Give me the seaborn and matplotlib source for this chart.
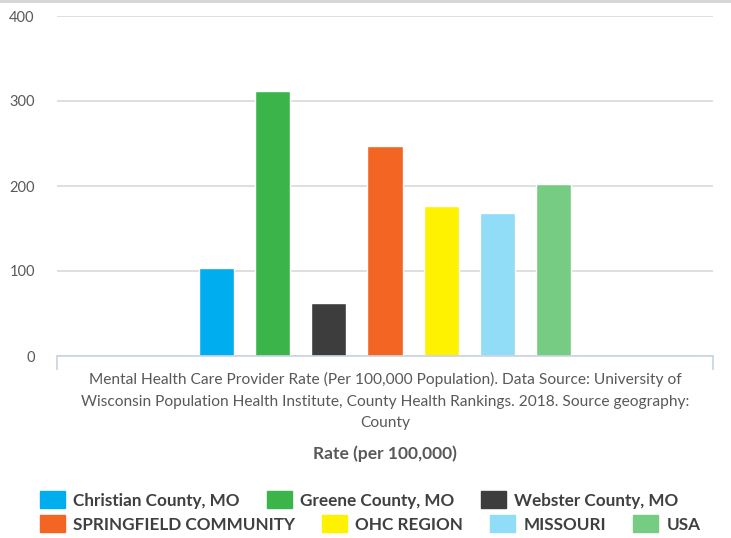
import pandas as pd
import seaborn as sns
import matplotlib.pyplot as plt
from matplotlib.lines import Line2D

# Chart data
areas = ["Christian County, MO", "Greene County, MO", "Webster County, MO",
         "SPRINGFIELD COMMUNITY", "OHC REGION", "MISSOURI", "USA"]
rates = [103, 312, 62, 247, 177, 168, 202]
bar_colors = ["#00aeef", "#3bb54a", "#3d3d3d", "#f26522", "#fff200", "#91dcf6", "#77cc83"]
category = ("Mental Health Care Provider Rate (Per 100,000 Population). Data Source: University of\n"
            "Wisconsin Population Health Institute, County Health Rankings. 2018. Source geography:\n"
            "County")
y_ticks = [0, 100, 200, 300, 400]
x_title = "Rate (per 100,000)"

sns.set_theme(style="white")
plt.rcParams["font.family"] = ["Lato", "DejaVu Sans"]

df = pd.DataFrame({"category": [category] * len(areas), "area": areas, "rate": rates})

fig = plt.figure(figsize=(7.31, 5.38), dpi=100)
ax = fig.add_axes([57 / 731, 1 - 356 / 538, 656 / 731, 340 / 538])

sns.barplot(data=df, x="category", y="rate", hue="area", hue_order=areas,
            palette=bar_colors, width=0.6, gap=0.375, saturation=1,
            legend=False, ax=ax, errorbar=None)

ax.set_xlim(-0.5, 0.5)
ax.set_ylim(0, 400)
ax.set_yticks(y_ticks)
ax.yaxis.grid(True, color="#d9d9d9", linewidth=1.2)
ax.set_axisbelow(True)
ax.set_ylabel("")

for s in ["left", "right", "top"]:
    ax.spines[s].set_visible(False)
ax.spines["bottom"].set_color("#c9d3e3")
ax.spines["bottom"].set_linewidth(1.2)

ax.tick_params(axis="y", length=0, pad=16, labelsize=10.5, labelcolor="#595959")
ax.set_xticks([0])
ax.set_xticklabels([category], fontsize=11.2, color="#595959", linespacing=1.68)
ax.tick_params(axis="x", which="major", length=0, pad=11.5)
ax.set_xticks([-0.5, 0.5], minor=True)
ax.tick_params(axis="x", which="minor", length=10, width=1.2, color="#c9d3e3",
               direction="out", bottom=True)
ax.set_xlabel(x_title, fontsize=12.5, fontweight="bold", color="#595959", labelpad=11)

# legend in two rows, like the original flow layout
handles = [plt.Rectangle((0, 0), 1, 1, color=c) for c in bar_colors]
leg_kw = dict(frameon=False, prop={"weight": "bold", "size": 12.3}, labelcolor="#404040",
              handlelength=1.46, handleheight=1.1, handletextpad=0.47, columnspacing=1.6,
              borderpad=0, borderaxespad=0, loc="center left")
leg1 = fig.legend(handles[:3], areas[:3], ncol=3,
                  bbox_to_anchor=(40 / 731, 1 - 500 / 538), **leg_kw)
leg2 = fig.legend(handles[3:], areas[3:], ncol=4,
                  bbox_to_anchor=(40 / 731, 1 - 524 / 538), **leg_kw)

# thin grey border along the top
fig.add_artist(Line2D([0, 1], [0.998, 0.998], color="#d4d4d4", linewidth=2,
                      transform=fig.transFigure))

fig.savefig("out.png", dpi=100)
